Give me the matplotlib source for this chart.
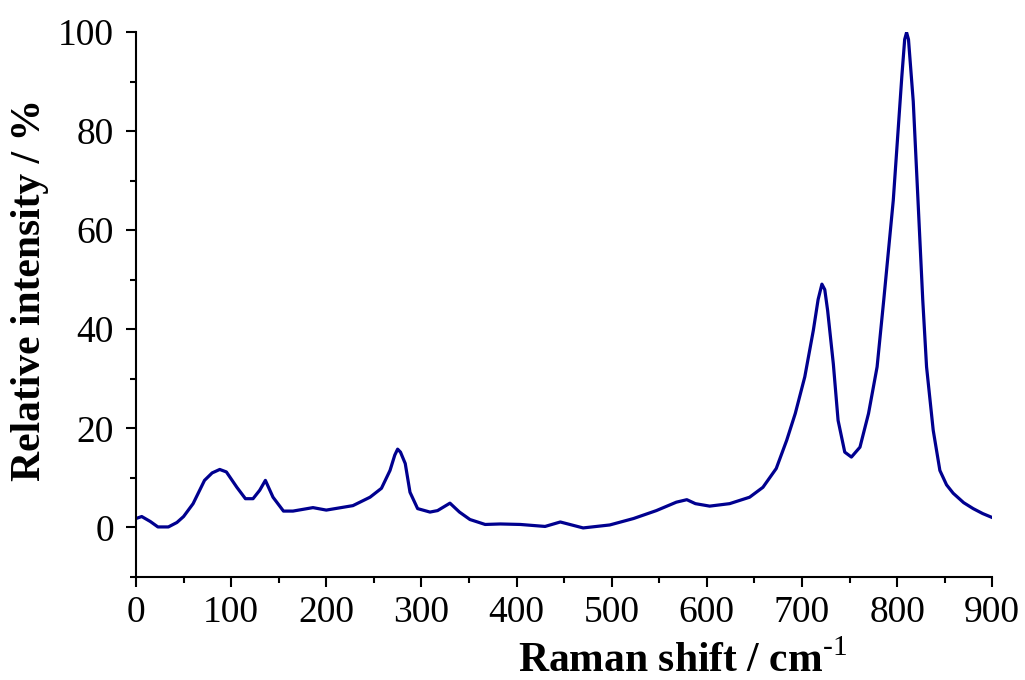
import matplotlib.pyplot as plt
from matplotlib.ticker import MultipleLocator

plt.rcParams["font.family"] = ["Liberation Serif", "DejaVu Serif"]
plt.rcParams["mathtext.fontset"] = "custom"
plt.rcParams["mathtext.rm"] = "Liberation Serif"
plt.rcParams["mathtext.bf"] = "Liberation Serif:bold"

# Raman spectrum
shift = [0, 6, 15, 23, 34, 43, 50, 60, 72, 80, 88, 95, 106, 115, 123, 130,
         136, 144, 155, 165, 186, 200, 228, 246, 258, 267, 272, 275, 278,
         283, 288, 296, 309, 317, 330, 340, 351, 367, 383, 404, 430, 446,
         470, 498, 523, 547, 568, 579, 588, 603, 624, 645, 659, 673, 684,
         693, 703, 712, 717, 721, 724, 727, 733, 738, 745, 752, 761, 770,
         779, 786, 796, 805, 808, 810, 812, 817, 822, 827, 831, 838, 845,
         852, 859, 870, 880, 890, 900]
intensity = [1.8, 2.2, 1.2, 0.1, 0.1, 1.0, 2.2, 4.8, 9.5, 11.0, 11.7, 11.2,
             8.1, 5.8, 5.8, 7.5, 9.5, 6.1, 3.3, 3.3, 4.0, 3.5, 4.4, 6.1, 7.9,
             11.5, 14.6, 15.8, 15.2, 12.9, 7.1, 3.8, 3.1, 3.4, 4.9, 3.1, 1.6,
             0.6, 0.7, 0.6, 0.2, 1.1, -0.1, 0.5, 1.8, 3.4, 5.1, 5.6, 4.8,
             4.3, 4.8, 6.1, 8.1, 11.9, 17.6, 23.0, 30.4, 39.8, 46.0, 49.1,
             48.0, 43.8, 33.0, 21.6, 15.2, 14.2, 16.2, 23.0, 32.4, 45.9,
             66.0, 91.0, 98.5, 99.9, 98.5, 86.0, 66.0, 45.9, 32.4, 19.6,
             11.5, 8.6, 6.9, 5.0, 3.8, 2.8, 2.0]

fig = plt.figure(figsize=(10.25, 6.8), dpi=100)
ax = fig.add_axes([0.1327, 0.1515, 0.8353, 0.8015])

ax.plot(shift, intensity, color="#00008f", linewidth=2.3,
        solid_joinstyle="round")

ax.set_xlim(0, 900)
ax.set_ylim(-10, 100)
ax.xaxis.set_major_locator(MultipleLocator(100))
ax.xaxis.set_minor_locator(MultipleLocator(50))
ax.yaxis.set_major_locator(MultipleLocator(20))
ax.yaxis.set_minor_locator(MultipleLocator(10))

for side in ["top", "right"]:
    ax.spines[side].set_visible(False)
for side in ["left", "bottom"]:
    ax.spines[side].set_linewidth(1.5)

ax.tick_params(which="major", direction="out", length=7, width=1.5,
               labelsize=27, pad=6)
ax.tick_params(axis="y", which="major", pad=9)
ax.tick_params(which="minor", direction="out", length=4, width=1.5)

fig.text(0.666, 0.012, r"Raman shift / cm$^{\text{-1}}$", fontsize=30,
         fontweight="bold", ha="center", va="baseline")
fig.text(0.029, 0.573, "Relative intensity / %", fontsize=30,
         fontweight="bold", rotation=90, ha="center", va="center")

fig.savefig("out.png", dpi=100)
plt.close(fig)
